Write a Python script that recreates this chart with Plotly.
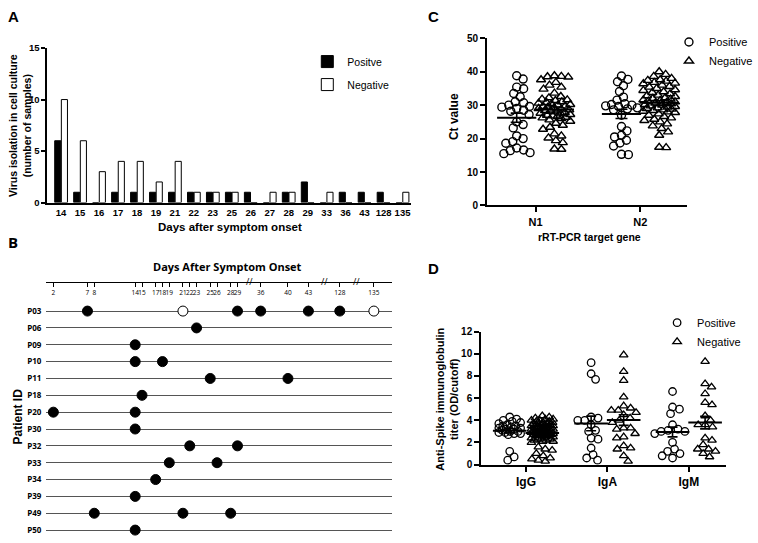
import numpy as np
import plotly.graph_objects as go

W, H = 758, 543
ARIAL = "Liberation Sans"
MYRIAD = "Open Sans"

# ---- A: virus isolation by day after onset
isolation_days = ["14", "15", "16", "17", "18", "19", "21", "22", "23", "25",
                  "26", "27", "28", "29", "33", "36", "43", "128", "135"]
isolation_pos = [6, 1, 0, 1, 1, 1, 1, 1, 1, 1, 1, 0, 1, 2, 0, 1, 1, 1, 0]
isolation_neg = [10, 6, 3, 4, 4, 2, 4, 1, 1, 1, 0, 1, 1, 0, 1, 0, 0, 0, 1]

# ---- B: sampling timeline per patient
patient_ids = ["P03", "P06", "P09", "P10", "P11", "P18", "P20", "P30",
               "P32", "P33", "P34", "P39", "P49", "P50"]
visit_days = [[7, 21, 29, 36, 43, 128, 135], [23], [14], [14, 18], [25, 40],
              [15], [2, 14], [14], [22, 29], [19, 26], [17], [14], [8, 21, 28], [14]]
visit_positive = [[1, 0, 1, 1, 1, 1, 0], [1], [1], [1, 1], [1, 1],
                  [1], [1, 1], [1], [1, 1], [1, 1], [1], [1], [1, 1, 1], [1]]
timeline_ticks = [2, 7, 8, 14, 15, 17, 18, 19, 21, 22, 23, 25, 26, 28, 29,
                  36, 40, 43, 128, 135]

# ---- C: Ct values
genes = ["N1", "N2"]
ct_n1_pos = [38.8, 37.8, 35.4, 34.9, 33.5, 32.5, 31.0, 30.7, 30.0, 29.6, 29.4, 29.0,
             28.5, 28.2, 27.2, 25.0, 24.2, 23.2, 20.8, 20.0, 19.1, 18.6, 17.2, 16.6,
             16.4, 15.8, 15.5]
ct_n1_neg = [38.8, 38.6, 38.5, 38.4, 37.6, 36.8, 36.0, 35.4, 34.8, 33.6, 32.6, 32.2,
             31.8, 31.6, 31.4, 31.0, 30.8, 30.6, 30.4, 30.2, 30.0, 29.8, 29.6, 29.4,
             29.2, 29.0, 28.8, 28.6, 28.4, 28.2, 28.0, 27.8, 27.6, 27.4, 27.2, 27.0,
             26.8, 26.6, 26.4, 26.2, 26.0, 25.6, 25.2, 24.6, 24.0, 23.4, 22.8, 21.4,
             20.8, 20.2, 19.4, 18.8, 16.9, 16.8]
ct_n2_pos = [38.7, 37.7, 37.0, 35.8, 34.1, 32.4, 31.5, 30.4, 30.2, 30.0, 29.8, 29.6,
             29.2, 28.9, 28.6, 27.0, 23.6, 22.3, 21.0, 20.5, 19.5, 18.7, 17.8, 15.3, 15.2]
ct_n2_neg = [40.0, 39.2, 38.6, 38.0, 37.6, 37.4, 37.2, 36.8, 36.6, 36.4, 36.0, 35.6,
             35.4, 35.0, 34.6, 34.4, 34.0, 33.8, 33.4, 33.0, 32.8, 32.6, 32.2, 32.0,
             31.8, 31.6, 31.4, 31.2, 31.0, 30.8, 30.6, 30.4, 30.2, 30.0, 29.8, 29.6,
             29.4, 29.2, 29.0, 28.8, 28.6, 28.4, 28.2, 28.0, 27.8, 27.4, 27.0, 26.6,
             26.2, 25.8, 25.4, 25.0, 24.4, 23.8, 23.0, 22.0, 21.0, 17.4, 17.3]

# ---- D: anti-spike titers
isotypes = ["IgG", "IgA", "IgM"]
igg_pos = [4.3, 4.1, 4.0, 3.9, 3.8, 3.7, 3.6, 3.5, 3.5, 3.4, 3.3, 3.3, 3.2, 3.2,
           3.1, 3.0, 3.0, 2.9, 2.9, 2.8, 2.8, 2.7, 1.2, 0.7, 0.4]
igg_neg = [4.4, 4.3, 4.2, 4.1, 4.1, 4.0, 4.0, 3.9, 3.9, 3.8, 3.8, 3.7, 3.7, 3.7,
           3.6, 3.6, 3.6, 3.5, 3.5, 3.5, 3.4, 3.4, 3.4, 3.3, 3.3, 3.3, 3.2, 3.2,
           3.2, 3.1, 3.1, 3.1, 3.0, 3.0, 3.0, 3.0, 2.9, 2.9, 2.9, 2.9, 2.8, 2.8,
           2.8, 2.8, 2.7, 2.7, 2.7, 2.6, 2.6, 2.6, 2.5, 2.5, 2.4, 2.4, 2.3, 2.3,
           2.2, 2.2, 2.1, 2.1, 2.0, 1.6, 1.4, 1.3, 1.0, 0.8, 0.6, 0.5, 0.4, 0.3]
iga_pos = [9.2, 8.2, 7.7, 4.3, 4.2, 4.0, 4.0, 3.6, 3.1, 3.0, 2.4, 2.3, 1.5, 0.9, 0.6, 0.4]
iga_neg = [9.9, 8.4, 7.6, 6.1, 5.3, 5.1, 4.9, 4.9, 4.7, 4.5, 4.2, 4.0, 3.8, 3.3,
           3.3, 3.2, 2.8, 2.5, 2.4, 1.7, 1.5, 1.4, 0.8, 0.3]
igm_pos = [6.6, 5.2, 5.0, 4.6, 3.6, 3.2, 3.1, 3.0, 3.0, 2.8, 2.0, 1.4, 1.2, 1.0, 0.8, 0.6]
igm_neg = [9.3, 7.3, 7.0, 6.4, 5.6, 5.4, 4.4, 4.0, 3.6, 3.6, 3.4, 2.4, 2.2, 1.8,
           1.4, 1.4, 1.2, 1.0, 0.7]


def px_x(px):
    return px / W


def px_y(py):
    return 1 - py / H


def swarm(values, center, sx, sy, diam, cap):
    # simple beeswarm: nearest free horizontal slot (in pixels) for each point
    vals = np.asarray(values, dtype=float)
    xs = np.zeros(len(vals))
    placed = []
    slots = [0.0]
    for s in np.arange(0.5, cap + 0.01, 0.5):
        slots += [s, -s]
    for i in np.argsort(-vals):
        y = vals[i] * sy
        best, best_d = 0.0, -1.0
        for c in slots:
            d = min((np.hypot(c - a, y - b) for a, b in placed), default=1e9)
            if d >= diam:
                best = c
                break
            if d > best_d:
                best, best_d = c, d
        placed.append((best, y))
        xs[i] = center + best / sx
    return xs


def mean_sem(v):
    v = np.asarray(v, dtype=float)
    return v.mean(), v.std(ddof=1) / np.sqrt(len(v))


fig = go.Figure()

# ---------------- A
fig.add_trace(go.Bar(x=isolation_days, y=isolation_pos, name="Positve",
                     marker=dict(color="black", line=dict(color="black", width=1)),
                     xaxis="x", yaxis="y", legend="legend", legendgroup="a1"))
fig.add_trace(go.Bar(x=isolation_days, y=isolation_neg, name="Negative",
                     marker=dict(color="white", line=dict(color="black", width=1)),
                     xaxis="x", yaxis="y", legend="legend", legendgroup="a2"))

# ---------------- B
axis_breaks = [(30, 3.6), (50, 84), (130, 86)]


def day_pos(d):
    shift = 0
    for start, cut in axis_breaks:
        if d > start:
            shift = cut
    return d - shift


for flag, fill in [(1, "black"), (0, "white")]:
    xs, ys = [], []
    for row, (days, pos) in enumerate(zip(visit_days, visit_positive)):
        for d, p in zip(days, pos):
            if p == flag:
                xs.append(day_pos(d))
                ys.append(row)
    fig.add_trace(go.Scatter(x=xs, y=ys, mode="markers", xaxis="x2", yaxis="y2",
                             marker=dict(size=10, color=fill, line=dict(color="black", width=1)),
                             showlegend=False, cliponaxis=False))

# ---------------- C
C_SX, C_SY = 106, 171 / 50
D_SX, D_SY = 248 / 3.01, 136 / 12
OFF = 0.18

c_groups = [(ct_n1_pos, ct_n2_pos), (ct_n1_neg, ct_n2_neg)]
for (g1, g2), name, sym, side in [(c_groups[0], "Positive", "circle-open", -1),
                                   (c_groups[1], "Negative", "triangle-up-open", 1)]:
    xs = np.concatenate([swarm(g1, 1 + side * OFF, C_SX, C_SY, 7, 16),
                         swarm(g2, 2 + side * OFF, C_SX, C_SY, 7, 16)])
    fig.add_trace(go.Scatter(x=xs, y=list(g1) + list(g2), mode="markers", name=name,
                             xaxis="x3", yaxis="y3", legend="legend2",
                             marker=dict(symbol=sym, size=8, color="black",
                                         line=dict(color="black", width=1.4))))

c_stats = [mean_sem(v) for v in (ct_n1_pos, ct_n1_neg, ct_n2_pos, ct_n2_neg)]
fig.add_trace(go.Scatter(x=[1 - OFF, 1 + OFF, 2 - OFF, 2 + OFF], y=[m for m, _ in c_stats],
                         mode="markers", xaxis="x3", yaxis="y3", showlegend=False,
                         marker=dict(symbol="line-ew", size=28, line=dict(color="black", width=2)),
                         error_y=dict(type="data", array=[s for _, s in c_stats],
                                      color="black", thickness=1.6, width=6)))

# ---------------- D
d_pos = [igg_pos, iga_pos, igm_pos]
d_neg = [igg_neg, iga_neg, igm_neg]
D_OFF = 0.2
for groups, name, sym, side in [(d_pos, "Positive", "circle-open", -1),
                                (d_neg, "Negative", "triangle-up-open", 1)]:
    xs, ys = [], []
    for k, g in enumerate(groups):
        cap = 11 if k == 0 else 18
        xs += list(swarm(g, k + 1 + side * D_OFF, D_SX, D_SY, 7, cap))
        ys += list(g)
    fig.add_trace(go.Scatter(x=xs, y=ys, mode="markers", name=name,
                             xaxis="x4", yaxis="y4", legend="legend3",
                             marker=dict(symbol=sym, size=7.5, color="black",
                                         line=dict(color="black", width=1.3))))

d_stats = []
d_x = []
for k in range(3):
    for side, g in [(-1, d_pos[k]), (1, d_neg[k])]:
        d_stats.append(mean_sem(g))
        d_x.append(k + 1 + side * D_OFF)
fig.add_trace(go.Scatter(x=d_x, y=[m for m, _ in d_stats], mode="markers",
                         xaxis="x4", yaxis="y4", showlegend=False,
                         marker=dict(symbol="line-ew", size=24, line=dict(color="black", width=2)),
                         error_y=dict(type="data", array=[s for _, s in d_stats],
                                      color="black", thickness=1.6, width=5)))

# ---------------- layout
bold = dict(family=ARIAL, size=10, color="black", weight="bold")
axis_common = dict(showline=True, linecolor="black", linewidth=2, zeroline=False,
                   showgrid=False, tickfont=bold, ticks="outside", ticklen=5,
                   tickwidth=1.5, tickcolor="black")

annotations = [
    dict(text="A", x=px_x(6), y=px_y(11), font=dict(family=ARIAL, size=15, weight="bold")),
    dict(text="B", x=px_x(6), y=px_y(241), font=dict(family=MYRIAD, size=15, weight="bold")),
    dict(text="C", x=px_x(431), y=px_y(11), font=dict(family=ARIAL, size=15, weight="bold")),
    dict(text="D", x=px_x(431), y=px_y(268), font=dict(family=ARIAL, size=15, weight="bold")),
    dict(text="Virus isolation in cell culture<br>(number of samples)", x=px_x(21), y=px_y(122),
         textangle=-90, xanchor="center", font=dict(family=ARIAL, size=10.5, weight="bold")),
    dict(text="Days after symptom onset", x=px_x(233), y=px_y(226), xanchor="center",
         font=dict(family=ARIAL, size=11.5, weight="bold")),
    dict(text="Days After Symptom Onset", x=px_x(230), y=px_y(266), xanchor="center",
         font=dict(family=MYRIAD, size=11, weight="bold")),
    dict(text="Patient ID", x=px_x(18), y=px_y(420), textangle=-90, xanchor="center",
         font=dict(family=ARIAL, size=12, weight="bold")),
    dict(text="Ct value", x=px_x(459), y=px_y(113), textangle=-90, xanchor="center",
         font=dict(family=ARIAL, size=12, weight="bold")),
    dict(text="rRT-PCR target gene", x=px_x(597), y=px_y(236), xanchor="center",
         font=dict(family=ARIAL, size=10.5, weight="bold")),
    dict(text="Anti-Spike immunoglobulin<br>titer (OD/cutoff)", x=px_x(452), y=px_y(402),
         textangle=-90, xanchor="center", font=dict(family=ARIAL, size=11, weight="bold")),
]
for a in annotations:
    a.update(xref="paper", yref="paper", showarrow=False, yanchor="middle")
    a.setdefault("xanchor", "left")

# timeline breaks and arrow head
for start, _ in axis_breaks:
    lo = max(t for t in timeline_ticks if t <= start)
    hi = min(t for t in timeline_ticks if t > start)
    annotations.append(dict(text="//", x=(day_pos(lo) + day_pos(hi)) / 2, y=px_y(282),
                            xref="x2", yref="paper", showarrow=False, yanchor="middle",
                            font=dict(family=MYRIAD, size=9, color="black")))
annotations.append(dict(text="", x=52.6, y=px_y(282), xref="x2", yref="paper",
                        ax=-10, ay=0, axref="pixel", ayref="pixel", showarrow=True,
                        arrowhead=2, arrowsize=1.3, arrowwidth=1.2, arrowcolor="black"))

fig.update_layout(
    width=W, height=H, margin=dict(l=0, r=0, t=0, b=0),
    paper_bgcolor="white", plot_bgcolor="white",
    font=dict(family=ARIAL, color="black"),
    barmode="group", bargap=0.3, bargroupgap=0.08,
    xaxis=dict(axis_common, domain=[px_x(48), px_x(416)], anchor="y", type="category",
               range=[-0.72, 18.45], ticks="", tickangle=0, tickfont=dict(bold, size=9.5)),
    yaxis=dict(axis_common, domain=[px_y(201), px_y(43)], anchor="x", range=[0, 15],
               tickvals=[0, 5, 10, 15], ticklen=4, tickfont=dict(bold, size=9.5)),
    xaxis2=dict(domain=[px_x(47), px_x(397)], anchor="free", position=px_y(282), side="bottom",
                range=[0.985, 51.7], tickvals=[day_pos(d) for d in timeline_ticks],
                ticktext=[str(d) for d in timeline_ticks], tickangle=0, showline=True,
                linecolor="black", linewidth=1.2, ticks="outside", ticklen=4, tickwidth=1,
                tickcolor="black", showgrid=False, zeroline=False,
                tickfont=dict(family=MYRIAD, size=6.5, color="black")),
    yaxis2=dict(domain=[0, px_y(282)], anchor="x2", range=[13.41, -1.74],
                tickvals=list(range(len(patient_ids))), ticktext=patient_ids,
                showgrid=True, gridcolor="#555555", gridwidth=1, zeroline=False,
                showline=False, ticks="", ticklabelstandoff=4,
                tickfont=dict(family=MYRIAD, size=8, color="black", weight="bold")),
    xaxis3=dict(axis_common, domain=[px_x(493), px_x(695)], anchor="y3", range=[0.538, 2.443],
                tickvals=[1, 2], ticktext=genes, tickfont=dict(bold, size=11)),
    yaxis3=dict(axis_common, domain=[px_y(204), px_y(33)], anchor="x3", range=[0, 50],
                tickvals=[0, 10, 20, 30, 40, 50]),
    xaxis4=dict(axis_common, domain=[px_x(487), px_x(735)], anchor="y4", range=[0.45, 3.46],
                tickvals=[1, 2, 3], ticktext=isotypes, tickfont=dict(bold, size=12)),
    yaxis4=dict(axis_common, domain=[px_y(469), px_y(333)], anchor="x4", range=[0, 12],
                tickvals=[0, 2, 4, 6, 8, 10, 12]),
    legend=dict(x=px_x(311), y=px_y(42), xanchor="left", yanchor="top",
                traceorder="grouped", tracegroupgap=4, bgcolor="rgba(0,0,0,0)",
                font=dict(family=ARIAL, size=10.5, color="black")),
    legend2=dict(x=px_x(677), y=px_y(22), xanchor="left", yanchor="top",
                 bgcolor="rgba(0,0,0,0)", font=dict(family=ARIAL, size=11, color="black")),
    legend3=dict(x=px_x(665), y=px_y(309), xanchor="left", yanchor="top",
                 bgcolor="rgba(0,0,0,0)", font=dict(family=ARIAL, size=11, color="black")),
    annotations=annotations,
)

# page without the default body margin so the 758x543 figure fills the window
fig.write_html("out.html", config={"displayModeBar": False},
               post_script="document.body.style.margin='0';"
                           "document.body.style.overflow='hidden';")
